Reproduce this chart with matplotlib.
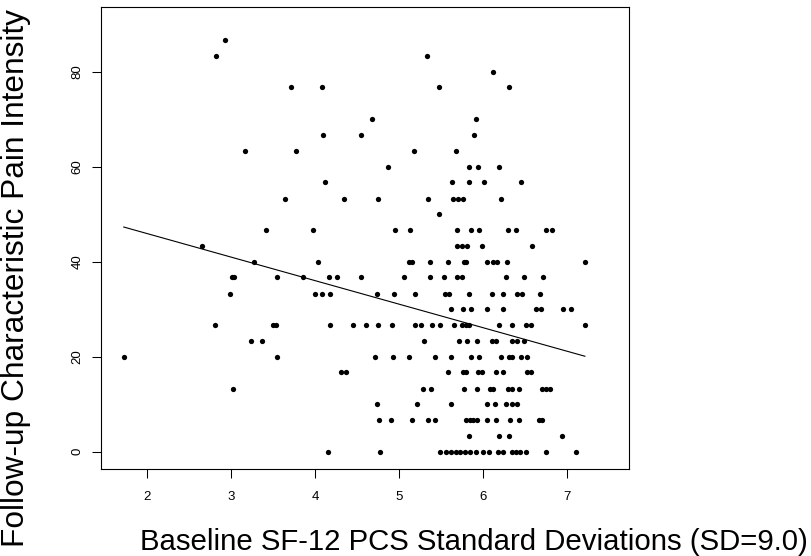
import matplotlib
matplotlib.use("Agg")
import matplotlib.pyplot as plt

# Baseline SF-12 PCS (in SD units) and follow-up pain, one row of values per pain level
pcs_sd = [
    4.15, 4.77, 5.48, 5.56, 5.62, 5.67, 5.72, 5.78, 5.84, 5.91, 6.00, 6.07, 6.18, 6.24, 6.34, 6.39, 6.44, 6.51, 6.75, 7.10,
    5.83, 6.19, 6.31, 6.94,
    4.76, 4.90, 5.15, 5.34, 5.43, 5.80, 5.84, 5.88, 5.93, 6.04, 6.15, 6.32, 6.42, 6.66, 6.70,
    4.73, 5.21, 5.61, 6.05, 6.14, 6.27, 6.34, 6.40,
    3.02, 5.28, 5.38, 5.77, 5.92, 6.08, 6.12, 6.30, 6.34, 6.42, 6.70, 6.75, 6.79,
    4.31, 4.37, 5.58, 5.76, 5.80, 5.94, 5.99, 6.15, 6.24, 6.52, 6.57,
    1.72, 3.55, 4.71, 4.93, 5.12, 5.43, 5.62, 5.85, 5.95, 6.21, 6.31, 6.34, 6.45, 6.52,
    3.23, 3.37, 5.29, 5.71, 5.81, 5.92, 6.10, 6.15, 6.34, 6.40, 6.48,
    2.81, 3.50, 3.53, 4.18, 4.45, 4.60, 4.75, 4.91, 5.19, 5.26, 5.39, 5.48, 5.65, 5.75, 5.79, 5.83, 6.19, 6.34, 6.51, 6.57, 7.21,
    5.62, 5.76, 5.85, 6.04, 6.24, 6.63, 6.69, 6.95, 7.04,
    2.99, 4.00, 4.08, 4.18, 4.74, 4.94, 5.19, 5.54, 5.59, 5.83, 6.10, 6.23, 6.40, 6.46, 6.67,
    3.01, 3.03, 3.54, 3.85, 4.16, 4.26, 4.55, 5.06, 5.36, 5.53, 5.69, 5.75, 6.27, 6.49, 6.71,
    3.27, 4.03, 5.12, 5.15, 5.36, 5.58, 5.77, 5.80, 6.04, 6.12, 6.16, 6.28, 7.21,
    2.65, 5.69, 5.75, 5.81, 5.98, 6.58,
    3.41, 3.97, 4.95, 5.13, 5.69, 5.85, 5.95, 6.30, 6.39, 6.75, 6.82,
    5.47,
    3.64, 4.34, 4.75, 5.34, 5.64, 5.70, 5.76, 6.21,
    4.12, 5.63, 5.83, 6.01, 6.45,
    4.87, 5.83, 5.94, 6.19,
    3.16, 3.77, 5.18, 5.68,
    4.09, 4.54, 5.89,
    4.67, 5.91,
    3.71, 4.08, 5.47, 6.31,
    6.12,
    2.82, 5.33,
    2.93,
]
pain = [
    0, 0, 0, 0, 0, 0, 0, 0, 0, 0, 0, 0, 0, 0, 0, 0, 0, 0, 0, 0,
    3.3, 3.3, 3.3, 3.3,
    6.7, 6.7, 6.7, 6.7, 6.7, 6.7, 6.7, 6.7, 6.7, 6.7, 6.7, 6.7, 6.7, 6.7, 6.7,
    10, 10, 10, 10, 10, 10, 10, 10,
    13.3, 13.3, 13.3, 13.3, 13.3, 13.3, 13.3, 13.3, 13.3, 13.3, 13.3, 13.3, 13.3,
    16.7, 16.7, 16.7, 16.7, 16.7, 16.7, 16.7, 16.7, 16.7, 16.7, 16.7,
    20, 20, 20, 20, 20, 20, 20, 20, 20, 20, 20, 20, 20, 20,
    23.3, 23.3, 23.3, 23.3, 23.3, 23.3, 23.3, 23.3, 23.3, 23.3, 23.3,
    26.7, 26.7, 26.7, 26.7, 26.7, 26.7, 26.7, 26.7, 26.7, 26.7, 26.7, 26.7, 26.7, 26.7, 26.7, 26.7, 26.7, 26.7, 26.7, 26.7, 26.7,
    30, 30, 30, 30, 30, 30, 30, 30, 30,
    33.3, 33.3, 33.3, 33.3, 33.3, 33.3, 33.3, 33.3, 33.3, 33.3, 33.3, 33.3, 33.3, 33.3, 33.3,
    36.7, 36.7, 36.7, 36.7, 36.7, 36.7, 36.7, 36.7, 36.7, 36.7, 36.7, 36.7, 36.7, 36.7, 36.7,
    40, 40, 40, 40, 40, 40, 40, 40, 40, 40, 40, 40, 40,
    43.3, 43.3, 43.3, 43.3, 43.3, 43.3,
    46.7, 46.7, 46.7, 46.7, 46.7, 46.7, 46.7, 46.7, 46.7, 46.7, 46.7,
    50,
    53.3, 53.3, 53.3, 53.3, 53.3, 53.3, 53.3, 53.3,
    56.7, 56.7, 56.7, 56.7, 56.7,
    60, 60, 60, 60,
    63.3, 63.3, 63.3, 63.3,
    66.7, 66.7, 66.7,
    70, 70,
    76.7, 76.7, 76.7, 76.7,
    80,
    83.3, 83.3,
    86.7,
]

# fitted regression line, read at its two ends
fit_x = [1.72, 7.21]
fit_y = [47.3, 20.1]

x_ticks = [2, 3, 4, 5, 6, 7]
y_ticks = [0, 20, 40, 60, 80]

plt.rcParams['font.family'] = ['Liberation Sans', 'DejaVu Sans']

fig = plt.figure(figsize=(8.12, 5.56), dpi=100)
ax = fig.add_axes([101 / 812, 1 - 469 / 556, 528 / 812, 462 / 556])

ax.plot(pcs_sd, pain, linestyle='none', marker='o', markersize=3.8,
        markeredgewidth=0, color='black')
ax.plot(fit_x, fit_y, color='black', linewidth=0.8)

ax.set_xlim(1.449, 7.735)
ax.set_ylim(-3.64, 93.62)
ax.set_xticks(x_ticks)
ax.set_yticks(y_ticks)
ax.tick_params(direction='out', length=6.5, width=0.75, labelsize=9.5)
ax.tick_params(axis='x', pad=9)
ax.tick_params(axis='y', pad=6)
for lab in ax.get_yticklabels():
    lab.set_rotation(90)
    lab.set_va('center')
for sp in ax.spines.values():
    sp.set_linewidth(0.8)

fig.text(0.584, 0.026, "Baseline SF-12 PCS Standard Deviations (SD=9.0)",
         fontsize=21.2, ha='center', va='center')
fig.text(0.020, 0.500, "Follow-up Characteristic Pain Intensity",
         fontsize=22.8, ha='center', va='center', rotation=90)

fig.savefig("out.png", dpi=100)
